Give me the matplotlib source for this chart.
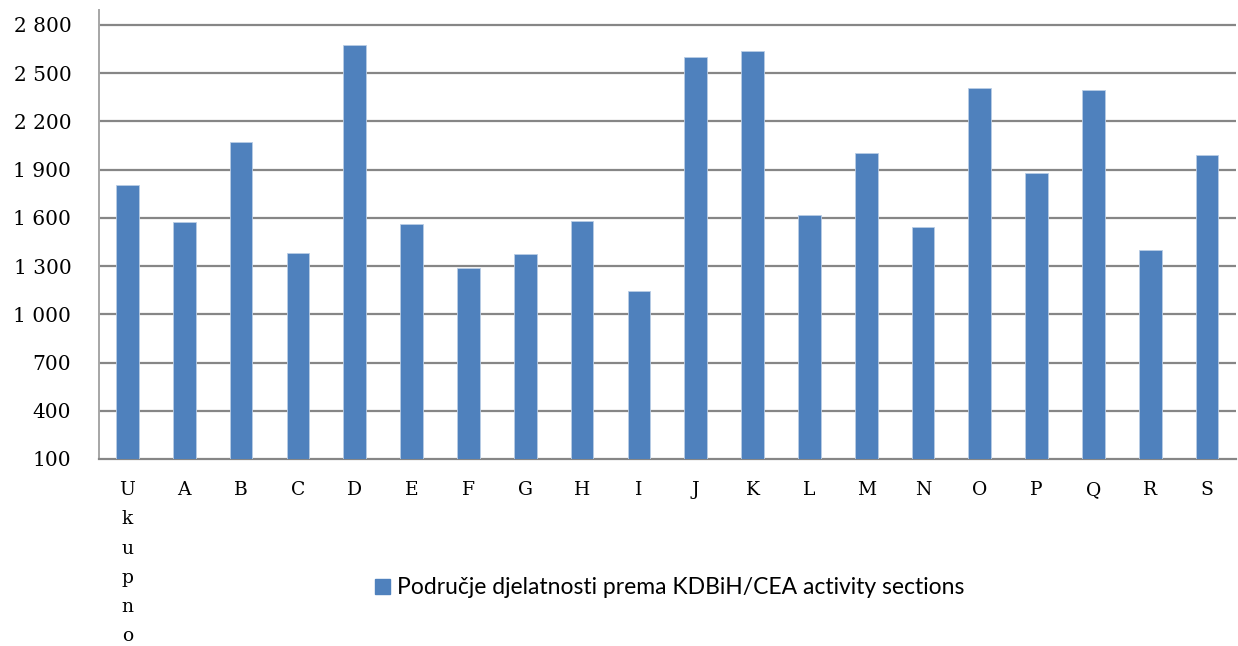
import numpy as np
import matplotlib.pyplot as plt
from matplotlib.patches import Patch

# Podaci
kategorije = ["Ukupno", "A", "B", "C", "D", "E", "F", "G", "H", "I",
              "J", "K", "L", "M", "N", "O", "P", "Q", "R", "S"]
vrijednosti = [1807, 1575, 2074, 1381, 2674, 1563, 1288, 1376, 1581, 1143,
               2600, 2637, 1619, 2006, 1544, 2405, 1881, 2394, 1400, 1992]
y_ticks = [100, 400, 700, 1000, 1300, 1600, 1900, 2200, 2500, 2800]
legenda = "Područje djelatnosti prema KDBiH/CEA activity sections"

boja = "#4F81BD"
siva = "#868686"

fig = plt.figure(figsize=(12.38, 6.46), dpi=100)
ax = fig.add_axes([0.080, 0.2895, 0.918, 0.695])

x = np.arange(len(kategorije))
ax.bar(x, vrijednosti, width=0.4, color=boja, edgecolor="#B9CDE5",
       linewidth=0.6, zorder=3, bottom=0)

ax.set_ylim(100, 2893)
ax.set_xlim(-0.5, len(kategorije) - 0.5)

ax.set_yticks(y_ticks)
ax.set_yticklabels([f"{v:,}".replace(",", " ") for v in y_ticks],
                   family="DejaVu Serif", fontsize=14.5)
for v in y_ticks[1:]:
    ax.axhline(v, color=siva, linewidth=1.6, zorder=1)

# "Ukupno" uspravno, slovo po slovo
oznake = ["\n".join(k) if len(k) > 1 else k for k in kategorije]
ax.set_xticks(x)
ax.set_xticklabels(oznake, family="DejaVu Serif", fontsize=13.5,
                   linespacing=1.8, va="top")

ax.tick_params(axis="both", length=0)
ax.tick_params(axis="x", pad=16)
ax.tick_params(axis="y", pad=20)

for s in ["top", "right"]:
    ax.spines[s].set_visible(False)
ax.spines["left"].set_color("#A6A6A6")
ax.spines["left"].set_linewidth(1.4)
ax.spines["bottom"].set_color(siva)
ax.spines["bottom"].set_linewidth(1.6)

fig.legend(handles=[Patch(color=boja)], labels=[legenda],
           loc="center", bbox_to_anchor=(0.541, 0.09),
           frameon=False, handlelength=0.65, handleheight=0.65,
           handletextpad=0.3, prop={"family": "Lato", "size": 16.5})

fig.savefig("out.png", dpi=100)
